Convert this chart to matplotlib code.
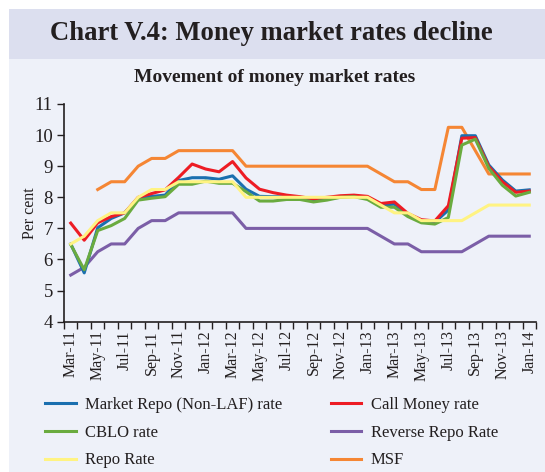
import matplotlib
matplotlib.use("Agg")
import matplotlib.pyplot as plt
from matplotlib.patches import Rectangle
import numpy as np

months = ["Mar-11", "Apr-11", "May-11", "Jun-11", "Jul-11", "Aug-11", "Sep-11", "Oct-11",
          "Nov-11", "Dec-11", "Jan-12", "Feb-12", "Mar-12", "Apr-12", "May-12", "Jun-12",
          "Jul-12", "Aug-12", "Sep-12", "Oct-12", "Nov-12", "Dec-12", "Jan-13", "Feb-13",
          "Mar-13", "Apr-13", "May-13", "Jun-13", "Jul-13", "Aug-13", "Sep-13", "Oct-13",
          "Nov-13", "Dec-13", "Jan-14"]

market_repo = [6.50, 5.57, 7.02, 7.32, 7.50, 7.97, 8.03, 8.07, 8.54, 8.63, 8.63, 8.58,
               8.69, 8.26, 8.03, 8.02, 8.02, 8.00, 7.91, 7.97, 8.00, 8.03, 8.00, 7.75,
               7.78, 7.45, 7.25, 7.20, 7.59, 9.98, 9.98, 9.04, 8.56, 8.20, 8.24]
call_money = [7.17, 6.62, 7.18, 7.38, 7.50, 8.00, 8.12, 8.24, 8.64, 9.07, 8.91, 8.82,
              9.15, 8.62, 8.26, 8.15, 8.07, 8.02, 7.95, 8.00, 8.05, 8.07, 8.03, 7.80,
              7.85, 7.48, 7.28, 7.24, 7.73, 9.90, 9.92, 8.99, 8.50, 8.16, 8.20]
cblo = [6.48, 5.67, 6.93, 7.09, 7.32, 7.91, 7.97, 8.02, 8.42, 8.42, 8.52, 8.45,
        8.45, 8.18, 7.88, 7.88, 7.93, 7.93, 7.85, 7.91, 8.00, 8.02, 7.93, 7.68,
        7.68, 7.38, 7.18, 7.14, 7.35, 9.68, 9.87, 8.93, 8.39, 8.04, 8.16]
reverse_repo = [5.50, 5.75, 6.25, 6.50, 6.50, 7.00, 7.25, 7.25, 7.50, 7.50, 7.50, 7.50,
                7.50, 7.00, 7.00, 7.00, 7.00, 7.00, 7.00, 7.00, 7.00, 7.00, 7.00, 6.75,
                6.50, 6.50, 6.25, 6.25, 6.25, 6.25, 6.50, 6.75, 6.75, 6.75, 6.75]
repo = [6.50, 6.75, 7.25, 7.50, 7.50, 8.00, 8.25, 8.25, 8.50, 8.50, 8.50, 8.50,
        8.50, 8.00, 8.00, 8.00, 8.00, 8.00, 8.00, 8.00, 8.00, 8.00, 8.00, 7.75,
        7.50, 7.50, 7.25, 7.25, 7.25, 7.25, 7.50, 7.75, 7.75, 7.75, 7.75]
msf = [np.nan, np.nan, 8.25, 8.50, 8.50, 9.00, 9.25, 9.25, 9.50, 9.50, 9.50, 9.50,
       9.50, 9.00, 9.00, 9.00, 9.00, 9.00, 9.00, 9.00, 9.00, 9.00, 9.00, 8.75,
       8.50, 8.50, 8.25, 8.25, 10.25, 10.25, 9.50, 8.75, 8.75, 8.75, 8.75]

yticks = [4, 5, 6, 7, 8, 9, 10, 11]

plt.rcParams['font.family'] = ['Liberation Serif', 'DejaVu Serif']

W, H = 545, 472
fig = plt.figure(figsize=(W / 100, H / 100), dpi=100)
fig.patch.set_facecolor('white')

# background panels
fig.patches.append(Rectangle((9 / W, 0), 1 - 9 / W, 1 - 59 / H, transform=fig.transFigure,
                             facecolor='#eef1f9', edgecolor='none', zorder=-10))
fig.patches.append(Rectangle((9 / W, 1 - 59 / H), 1 - 9 / W, 50 / H, transform=fig.transFigure,
                             facecolor='#dcdfef', edgecolor='none', zorder=-10))

fig.text(271.5 / W, 1 - 34 / H, "Chart V.4: Money market rates decline", ha='center', va='center',
         fontsize=19.2, fontweight='bold', color='#231f20')
fig.text(275 / W, 1 - 78 / H, "Movement of money market rates", ha='center', va='center',
         fontsize=14, fontweight='bold', color='#231f20')

ax = fig.add_axes([64 / W, 1 - 321.7 / H, (536 - 64) / W, (321.7 - 104) / H])
ax.set_facecolor('none')

x = np.arange(len(months))
lw = 2.2
l_msf, = ax.plot(x, msf, color='#f58634', lw=lw, label='MSF', zorder=2)
l_rr, = ax.plot(x, reverse_repo, color='#7b5ea7', lw=lw, label='Reverse Repo Rate', zorder=2)
l_mr, = ax.plot(x, market_repo, color='#1a6faf', lw=lw, label='Market Repo (Non-LAF) rate', zorder=3)
l_cm, = ax.plot(x, call_money, color='#ed1c24', lw=lw, label='Call Money rate', zorder=4)
l_cb, = ax.plot(x, cblo, color='#6aab3f', lw=lw, label='CBLO rate', zorder=5)
l_rp, = ax.plot(x, repo, color='#fff382', lw=lw, label='Repo Rate', zorder=6)

ax.set_xlim(-0.5, len(months) - 0.5)
ax.set_ylim(4, 11)
ax.set_yticks(yticks)
ax.set_yticklabels([str(v) for v in yticks])
ax.set_xticks(x[::2])
ax.set_xticklabels(months[::2], rotation=90)
ax.set_xticks(np.arange(len(months) + 1) - 0.5, minor=True)
ax.tick_params(axis='x', which='major', length=0, pad=6, labelsize=11.5, colors='#231f20')
ax.tick_params(axis='x', which='minor', length=5, width=1, direction='out', color='#231f20')
ax.tick_params(axis='y', which='major', length=5, width=1, direction='out', pad=3,
               labelsize=13.5, colors='#231f20')
for s in ['top', 'right']:
    ax.spines[s].set_visible(False)
for s in ['left', 'bottom']:
    ax.spines[s].set_color('#231f20')
    ax.spines[s].set_linewidth(1.2)
ax.set_ylabel("Per cent", fontsize=11.5, color='#231f20')
ax.yaxis.set_label_coords((38 - 64) / 472, 0.5)

handles = [l_mr, l_cb, l_rp, l_cm, l_rr, l_msf]
leg = fig.legend(handles, [h.get_label() for h in handles], ncol=2, loc='upper left',
                 bbox_to_anchor=(45 / W, 1 - 397 / H), frameon=False, fontsize=12,
                 handlelength=1.85, handletextpad=0.55, columnspacing=2.9, labelspacing=0.70,
                 borderaxespad=0, borderpad=0)
for t in leg.get_texts():
    t.set_color('#231f20')

fig.savefig("out.png", dpi=100, facecolor=fig.get_facecolor())
